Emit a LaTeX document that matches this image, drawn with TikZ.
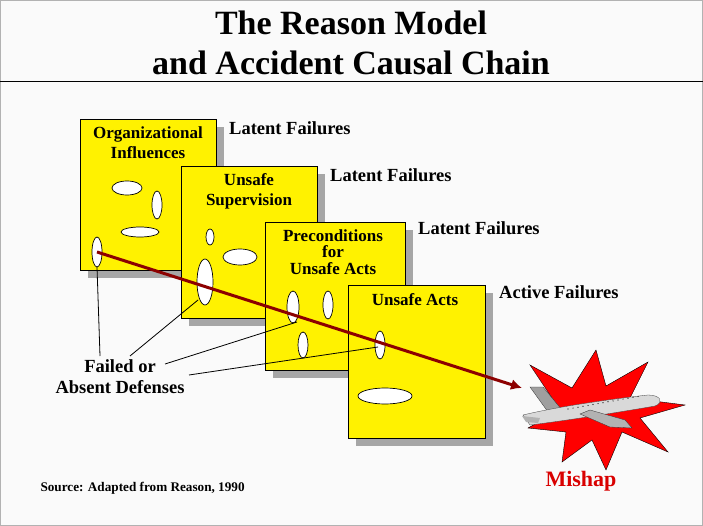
\documentclass[tikz,border=0pt]{standalone}
\usepackage{fontspec}
\setmainfont{Liberation Serif}
\usetikzlibrary{arrows.meta}
\begin{document}
\begin{tikzpicture}[x=1pt,y=-1pt,
 slice/.style={draw=black,line width=0.8pt,fill=yellow},
 shad/.style={fill=gray!70,draw=none},
 hole/.style={draw=black,line width=0.7pt,fill=white},
 lbl/.style={font=\bfseries\fontsize{18.5}{20}\selectfont,inner sep=0pt,anchor=west},
 stitle/.style={font=\bfseries\fontsize{17}{20}\selectfont,align=center,inner sep=0pt},
 ptr/.style={line width=0.8pt}]
\useasboundingbox (0,0) rectangle (703,526);
\fill[gray!4] (0,0) rectangle (703,526);
\draw[gray!60] (0.5,0.5) rectangle (702.5,525.5);
\node[font=\bfseries\fontsize{34}{40}\selectfont,align=center] (title) at (351,43) {The Reason Model\\and Accident Causal Chain};
\draw[line width=1pt] (0,82) -- (703,82);
% slices
\foreach \a/\b/\c/\d in {80/119/216/270, 181/166/317/318, 265/222/405/370, 348/285/485/438}{
 \fill[shad] (\a+8,\b+8) rectangle (\c+8,\d+8);
 \draw[slice] (\a,\b) rectangle (\c,\d);
}
\node[stitle] (s1) at (148,143) {Organizational\\Influences};
\node[stitle] (s2) at (249,191) {Unsafe\\Supervision};
\node[stitle,font=\bfseries\fontsize{17}{16.5}\selectfont] (s3) at (333,252) {Preconditions\\for\\Unsafe Acts};
\node[stitle] (s4) at (415,300) {Unsafe Acts};
\node[lbl] (l1) at (229,128) {Latent Failures};
\node[lbl] (l2) at (330,175) {Latent Failures};
\node[lbl] (l3) at (418,228) {Latent Failures};
\node[lbl] (l4) at (499,292) {Active Failures};
% holes
\draw[hole] (127,188) ellipse (15 and 7);
\draw[hole] (157,205) ellipse (5 and 14);
\draw[hole] (140,232) ellipse (19 and 5);
\draw[hole] (97,252) ellipse (5 and 15);
\draw[hole] (210,237) ellipse (4 and 8);
\draw[hole] (240,257) ellipse (17 and 8);
\draw[hole] (205,282) ellipse (8 and 23);
\draw[hole] (293,307) ellipse (6 and 16);
\draw[hole] (328,305) ellipse (5 and 14);
\draw[hole] (303,345) ellipse (5 and 13);
\draw[hole] (380,345) ellipse (5 and 14);
\draw[hole] (385,396) ellipse (27 and 8);
% starburst
\fill[red] (596,350) -- (606,386) -- (648,362) -- (630,398) -- (685,405) -- (640,418) -- (668,452) -- (622,432) -- (606,470) -- (592,440) -- (562,462) -- (566,432) -- (528,428) -- (560,410) -- (530,365) -- (572,388) -- cycle;
\draw[black,line width=0.4pt] (596,350) -- (606,386) -- (648,362) -- (630,398) -- (685,405) -- (640,418) -- (668,452) -- (622,432) -- (606,470) -- (592,440) -- (562,462) -- (566,432) -- (528,428) -- (560,410) -- (530,365) -- (572,388) -- cycle;
% airplane
\fill[gray!75,draw=gray!40!black,line width=0.3pt] (530,387) -- (543,387) -- (562,410) -- (548,412) -- cycle;
\fill[gray!30,draw=gray!50!black,line width=0.3pt] (523,415) .. controls (560,406) and (620,398) .. (648,395) .. controls (660,395) and (665,402) .. (655,406) .. controls (620,412) and (570,420) .. (530,425) -- cycle;
\fill[gray!60,draw=gray!40!black,line width=0.3pt] (590,410) -- (625,420) -- (632,428) -- (610,427) -- (580,414) -- cycle;
\fill[gray!60] (522,416) -- (540,418) -- (538,423) -- (526,422) -- cycle;
\foreach \i in {0,...,14} \fill[black] (568+5*\i,409-0.9*\i) circle (0.6);
\node[font=\bfseries\fontsize{22}{24}\selectfont,text=red!85!black] (mishap) at (581,481) {Mishap};
% causal arrow
\coordinate (h1) at (97,252);
\coordinate (ah) at (522,388);
\draw[red!55!black,line width=3pt,-{Latex[length=11pt,width=11pt]}] (h1) -- (ah);
% failed defenses
\node[font=\bfseries\fontsize{18.5}{21}\selectfont,align=center] (fd) at (120,377) {Failed or\\Absent Defenses};
\coordinate (p1) at (97,267);
\coordinate (p2) at (198,300);
\coordinate (p3) at (297,322);
\coordinate (p4) at (378,347);
\draw[ptr] (100,356) -- (p1);
\draw[ptr] (130,356) -- (p2);
\draw[ptr] (165,364) -- (p3);
\draw[ptr] (189,375) -- (p4);
\node[font=\bfseries\fontsize{13.2}{15}\selectfont,anchor=west] (src) at (37,488) {Source: Adapted from Reason, 1990};
\end{tikzpicture}
\end{document}
